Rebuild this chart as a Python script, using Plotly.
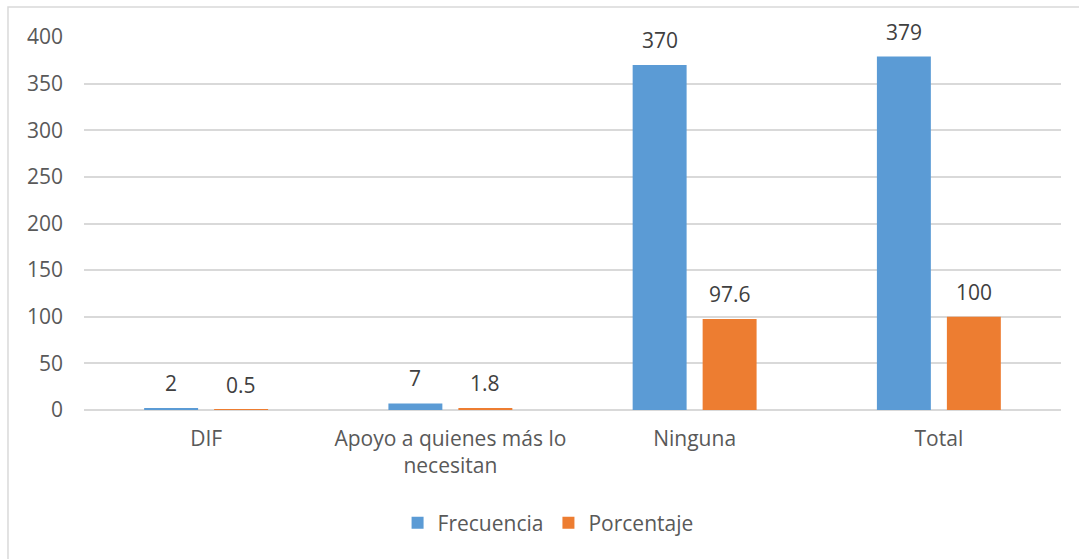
import plotly.graph_objects as go

categorias = ["DIF", "Apoyo a quienes más lo<br>necesitan", "Ninguna", "Total"]
frecuencia = [2, 7, 370, 379]
porcentaje = [0.5, 1.8, 97.6, 100]
etiquetas_frec = ["2", "7", "370", "379"]
etiquetas_pct = ["0.5", "1.8", "97.6", "100"]

AZUL = "#5B9BD5"
NARANJA = "#ED7D31"
FUENTE = "Open Sans"
TAM = 21

fig = go.Figure()
fig.add_trace(go.Bar(name="Frecuencia", x=categorias, y=frecuencia,
                     marker=dict(color=AZUL, line=dict(width=0))))
fig.add_trace(go.Bar(name="Porcentaje", x=categorias, y=porcentaje,
                     marker=dict(color=NARANJA, line=dict(width=0))))

# data labels, sitting a bit above each bar like Excel does
for serie, textos, desplaz in [(frecuencia, etiquetas_frec, -35), (porcentaje, etiquetas_pct, 35)]:
    for cat, val, txt in zip(categorias, serie, textos):
        fig.add_annotation(x=cat, y=val, text=txt, showarrow=False,
                           xshift=desplaz, yshift=25, yanchor="middle",
                           font=dict(family=FUENTE, size=TAM, color="#404040"))

# outer chart border (only top/left visible in the crop)
fig.add_shape(type="rect", xref="paper", yref="paper",
              x0=-0.0778, x1=1.03, y0=-0.42, y1=1.0804,
              line=dict(color="#D9D9D9", width=1.5), layer="below")

fig.update_layout(
    width=1079, height=559,
    margin=dict(l=84, r=18, t=37, b=149),
    paper_bgcolor="white", plot_bgcolor="white",
    barmode="group", bargap=0.427, bargroupgap=0.229,
    font=dict(family=FUENTE, size=TAM, color="#595959"),
    legend=dict(orientation="h", x=0.475, xanchor="center", y=-0.303, yanchor="middle",
                font=dict(size=TAM, color="#595959"), itemsizing="constant"),
    showlegend=True,
)
fig.update_yaxes(range=[0, 400], tick0=0, dtick=50, showgrid=True, gridcolor="#D9D9D9",
                 gridwidth=1.5, zeroline=True, zerolinecolor="#D9D9D9", zerolinewidth=1.5,
                 showline=False, ticks="", ticklabelstandoff=20,
                 tickfont=dict(size=TAM, color="#595959"))
fig.update_xaxes(showgrid=False, showline=False, ticks="", ticklabelstandoff=14,
                 tickfont=dict(size=TAM, color="#595959"))

fig.write_html("out.html", config={"displayModeBar": False},
               post_script="document.body.style.margin='0';")
